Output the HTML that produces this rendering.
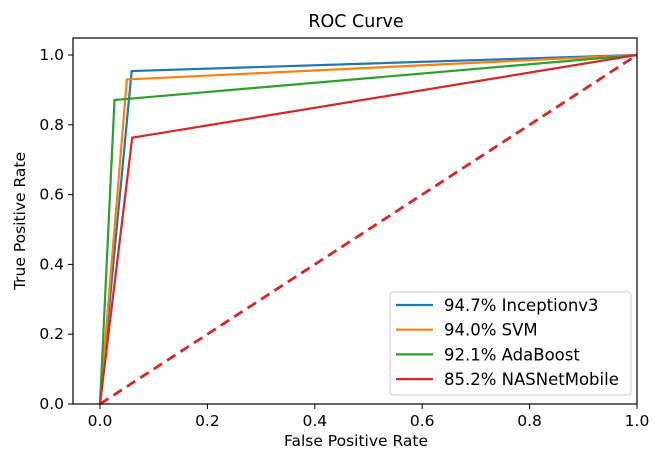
<!DOCTYPE html>
<html><head><meta charset="utf-8"><style>
body{margin:0;background:#fff}
svg{display:block;font-family:"DejaVu Sans","Liberation Sans",sans-serif}
</style></head><body>
<svg id="chart" width="664" height="453" xmlns="http://www.w3.org/2000/svg">
<text x="356" y="27" font-size="17.5" text-anchor="middle" fill="#000">ROC Curve</text>
<g id="series"></g>
<rect x="73" y="38" width="564" height="366" fill="none" stroke="#000" stroke-width="1.2"/>
<g id="ticks"></g>
<text x="356" y="446" font-size="15.5" text-anchor="middle">False Positive Rate</text>
<text x="0" y="0" font-size="15.5" text-anchor="middle" transform="translate(25,221) rotate(-90)">True Positive Rate</text>
<g id="legend"></g>
</svg>
<script>
const seriesNames=["94.7% Inceptionv3","94.0% SVM","92.1% AdaBoost","85.2% NASNetMobile"];
const seriesColors=["#1f77b4","#ff7f0e","#2ca02c","#d62728"];
const fprValues=[[0,0.059,1],[0,0.050,1],[0,0.027,1],[0,0.060,1]];
const tprValues=[[0,0.954,1],[0,0.930,1],[0,0.871,1],[0,0.763,1]];
const xTicks=[0,0.2,0.4,0.6,0.8,1.0];
const yTicks=[0,0.2,0.4,0.6,0.8,1.0];
const NS="http://www.w3.org/2000/svg";
const sx=v=>100+v*537, sy=v=>404-v*349;
function mk(t,a,p){const e=document.createElementNS(NS,t);for(const k in a)e.setAttribute(k,a[k]);p.appendChild(e);return e;}
const S=document.getElementById('series'),T=document.getElementById('ticks'),L=document.getElementById('legend');
seriesNames.forEach((n,i)=>{
 const pts=fprValues[i].map((x,j)=>sx(x)+","+sy(tprValues[i][j])).join(" ");
 const pl=mk('polyline',{points:pts,fill:"none",stroke:seriesColors[i],"stroke-width":2.2},S);
 
 
});
const d=mk('line',{x1:sx(0),y1:sy(0),x2:sx(1),y2:sy(1),stroke:"#d62728","stroke-width":2.8,"stroke-dasharray":"10,6"},S);


xTicks.forEach(v=>{
 mk('line',{x1:sx(v),x2:sx(v),y1:404,y2:409,stroke:"#000"},T);
 const t=mk('text',{x:sx(v),y:426,"font-size":15.5,"text-anchor":"middle"},T);t.textContent=v.toFixed(1);
 
 
});
yTicks.forEach(v=>{
 mk('line',{x1:68,x2:73,y1:sy(v),y2:sy(v),stroke:"#000"},T);
 const t=mk('text',{x:64,y:sy(v)+5,"font-size":15.5,"text-anchor":"end"},T);t.textContent=v.toFixed(1);
 
 
});
const box=mk('rect',{x:390,y:292,width:241,height:103,rx:3,fill:"#fff","fill-opacity":0.85,stroke:"#ccc"},L);


seriesNames.forEach((n,i)=>{
 const y=305+i*24.7;
 const g=mk('g',{},L);
 
 
 mk('line',{x1:396,x2:433,y1:y,y2:y,stroke:seriesColors[i],"stroke-width":2.2},g);
 const t=mk('text',{x:444,y:y+6,"font-size":16.5},g);t.textContent=n;
});
</script>
</body></html>
